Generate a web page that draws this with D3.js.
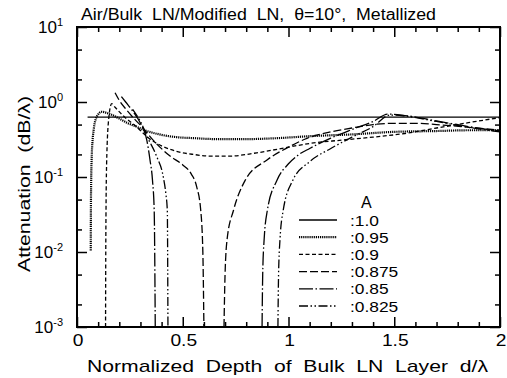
<!DOCTYPE html>
<html>
<head>
<meta charset="utf-8">
<script src="https://cdn.jsdelivr.net/npm/d3@7"></script>
<style>
  html, body { margin: 0; padding: 0; background: #fff; }
  svg { display: block; font-family: "Liberation Sans", Arial, Helvetica, sans-serif; }
  text { white-space: pre; }
</style>
</head>
<body>
<svg id="chart" width="507" height="378"></svg>
<script>
// Attenuation vs. normalized depth of bulk LN layer, one curve per A value.
// Gaps (null) mark the depth range where the curve drops below the plotted range.

const seriesA = ["1.0", "0.95", "0.9", "0.875", "0.85", "0.825"];

const depth_100 = [0.05, 2.0];
const atten_100 = [0.63, 0.63];

const depth_095 = [0.065, 0.066, 0.07, 0.08, 0.095, 0.117, 0.15, 0.2, 0.235, 0.28, 0.32, 0.39, 0.47, 0.55, 0.66, 0.8, 0.95, 1.1, 1.3, 1.5, 1.7, 1.85, 2.0];
const atten_095 = [0.0105, 0.05, 0.2, 0.45, 0.65, 0.74, 0.7, 0.6, 0.53, 0.47, 0.42, 0.37, 0.34, 0.33, 0.32, 0.32, 0.33, 0.35, 0.37, 0.40, 0.41, 0.42, 0.42];

const depth_090 = [0.135, 0.136, 0.14, 0.15, 0.164, 0.18, 0.22, 0.28, 0.345, 0.4, 0.47, 0.55, 0.63, 0.72, 0.85, 1.0, 1.1, 1.25, 1.4, 1.55, 1.7, 1.85, 2.0];
const atten_090 = [0.001, 0.01, 0.15, 0.6, 0.95, 0.85, 0.65, 0.47, 0.32, 0.26, 0.22, 0.2, 0.19, 0.19, 0.21, 0.25, 0.28, 0.31, 0.34, 0.38, 0.45, 0.53, 0.62];

const depth_0875 = [0.18, 0.2, 0.235, 0.27, 0.306, 0.36, 0.44, 0.5, 0.54, 0.566, 0.585, 0.595, 0.6, 0.65,
                    0.695, 0.70, 0.71, 0.74, 0.795, 0.9, 1.0, 1.09, 1.2, 1.3, 1.4, 1.5, 1.6, 1.7, 1.85, 2.0];
const atten_0875 = [1.33, 1.05, 0.78, 0.6, 0.47, 0.31, 0.19, 0.145, 0.11, 0.074, 0.036, 0.01, 0.001, null,
                    0.001, 0.005, 0.015, 0.036, 0.09, 0.17, 0.25, 0.33, 0.4, 0.45, 0.5, 0.52, 0.52, 0.5, 0.46, 0.42];

const depth_085 = [0.21, 0.23, 0.26, 0.30, 0.33, 0.345, 0.357, 0.365, 0.37, 0.6,
                   0.875, 0.878, 0.885, 0.90, 0.945, 1.0, 1.05, 1.1, 1.2, 1.3, 1.4, 1.47, 1.55, 1.7, 1.85, 2.0];
const atten_085 = [1.18, 1.0, 0.78, 0.52, 0.31, 0.17, 0.09, 0.036, 0.001, null,
                   0.001, 0.005, 0.015, 0.036, 0.09, 0.15, 0.2, 0.24, 0.33, 0.43, 0.55, 0.69, 0.66, 0.56, 0.47, 0.41];

const depth_0825 = [0.263, 0.28, 0.30, 0.335, 0.376, 0.408, 0.42, 0.427, 0.43, 0.7,
                    0.95, 0.953, 0.96, 0.975, 1.02, 1.1, 1.2, 1.3, 1.4, 1.48, 1.55, 1.7, 1.85, 2.0];
const atten_0825 = [0.80, 0.68, 0.55, 0.33, 0.19, 0.10, 0.06, 0.036, 0.001, null,
                    0.001, 0.005, 0.015, 0.036, 0.09, 0.16, 0.24, 0.34, 0.47, 0.67, 0.65, 0.55, 0.46, 0.40];

const xTickLabels = ["0", "0.5", "1", "1.5", "2"];
const xTickValues = [0, 0.5, 1, 1.5, 2];
const yTickExponents = [-3, -2, -1, 0, 1];

const titleText = "Air/Bulk  LN/Modified  LN,  \u03B8=10\u00B0,  Metallized";
const xLabelText = "Normalized  Depth  of  Bulk  LN  Layer  d/\u03BB";
const yLabelText = "Attenuation  (dB/\u03BB)";
const legendTitle = "A";

// ---- layout ----
const margin = { left: 77, right: 7, top: 27, bottom: 51 };
const W = 507, H = 378;
const x0 = margin.left, x1 = W - margin.right, y0 = margin.top, y1 = H - margin.bottom;

const x = d3.scaleLinear().domain([0, 2]).range([x0, x1]);
const y = d3.scaleLog().domain([1e-3, 1e1]).range([y1, y0]);

const svg = d3.select("#chart");

// widen a text element horizontally by a factor (or to a fixed width)
function widen(sel, factor, fixed) {
  sel.each(function () {
    const n = this.getComputedTextLength();
    const target = fixed != null ? fixed : n * factor;
    d3.select(this).attr("textLength", target).attr("lengthAdjust", "spacingAndGlyphs");
  });
}

svg.append("defs").append("clipPath").attr("id", "plotclip")
  .append("rect").attr("x", x0).attr("y", y0).attr("width", x1 - x0).attr("height", y1 - y0);

// ---- curves ----
const styles = [
  { dash: null, width: 1.3 },
  { dash: "1.2,0.9", width: 2.2 },
  { dash: "4,2.5", width: 1.3 },
  { dash: "8,3", width: 1.3 },
  { dash: "14,2.5,1.5,2.5", width: 1.3 },
  { dash: "9,2.5,1.5,2.5,1.5,2.5", width: 1.3 }
];
const depths = [depth_100, depth_095, depth_090, depth_0875, depth_085, depth_0825];
const attens = [atten_100, atten_095, atten_090, atten_0875, atten_085, atten_0825];

const line = d3.line()
  .defined(d => d[1] != null)
  .x(d => x(d[0]))
  .y(d => y(d[1]))
  .curve(d3.curveMonotoneX);

const curves = svg.append("g").attr("clip-path", "url(#plotclip)");
seriesA.forEach((a, i) => {
  const pts = depths[i].map((d, j) => [d, attens[i][j]]);
  curves.append("path")
    .attr("d", line(pts))
    .attr("fill", "none")
    .attr("stroke", "#000")
    .attr("stroke-width", styles[i].width)
    .attr("stroke-dasharray", styles[i].dash);
});

// ---- axes (inward ticks on all four sides) ----
const xMinor = d3.range(0, 2.0001, 0.1).map(v => +v.toFixed(1)).filter(v => Math.abs(v * 2 - Math.round(v * 2)) > 1e-6);
const yMinor = [];
for (let e = -3; e < 1; e++) { yMinor.push(2 * Math.pow(10, e), 5 * Math.pow(10, e)); }
const yMajor = yTickExponents.map(e => Math.pow(10, e));

function styleAxis(g) {
  g.selectAll(".domain").remove();
  g.selectAll("text").remove();
  g.selectAll("line").attr("stroke", "#000").attr("stroke-width", 1.5);
}

svg.append("g").attr("transform", `translate(0,${y1})`)
  .call(d3.axisBottom(x).tickValues(xTickValues).tickSize(-10)).call(styleAxis);
svg.append("g").attr("transform", `translate(0,${y1})`)
  .call(d3.axisBottom(x).tickValues(xMinor).tickSize(-5)).call(styleAxis);
svg.append("g").attr("transform", `translate(0,${y0})`)
  .call(d3.axisTop(x).tickValues(xTickValues).tickSize(-10)).call(styleAxis);
svg.append("g").attr("transform", `translate(0,${y0})`)
  .call(d3.axisTop(x).tickValues(xMinor).tickSize(-5)).call(styleAxis);

svg.append("g").attr("transform", `translate(${x0},0)`)
  .call(d3.axisLeft(y).tickValues(yMajor).tickSize(-10)).call(styleAxis);
svg.append("g").attr("transform", `translate(${x0},0)`)
  .call(d3.axisLeft(y).tickValues(yMinor).tickSize(-5)).call(styleAxis);
svg.append("g").attr("transform", `translate(${x1},0)`)
  .call(d3.axisRight(y).tickValues(yMajor).tickSize(-10)).call(styleAxis);
svg.append("g").attr("transform", `translate(${x1},0)`)
  .call(d3.axisRight(y).tickValues(yMinor).tickSize(-5)).call(styleAxis);

// frame
svg.append("rect")
  .attr("x", x0).attr("y", y0).attr("width", x1 - x0).attr("height", y1 - y0)
  .attr("fill", "none").attr("stroke", "#000").attr("stroke-width", 2);

// x tick labels
const xt = svg.append("g").selectAll("text").data(xTickValues).join("text")
  .attr("x", d => x(d) + 1)
  .attr("y", y1 + 19)
  .attr("text-anchor", "middle")
  .attr("font-size", 16)
  .text((d, i) => xTickLabels[i]);
widen(xt, 1.2);

// y tick labels: 10 with superscript exponent
const yl = svg.append("g").selectAll("text").data(yTickExponents).join("text")
  .attr("x", 63)
  .attr("y", d => y(Math.pow(10, d)) + 6)
  .attr("text-anchor", "end")
  .attr("font-size", 17);
yl.append("tspan").text("10");
yl.append("tspan").attr("font-size", 11).attr("dy", -7).text(d => d);

// titles
const title = svg.append("text").attr("x", 81).attr("y", 20).attr("font-size", 16).text(titleText);
widen(title, null, 355);
const xlab = svg.append("text").attr("x", 87).attr("y", 372)
  .attr("font-size", 17).text(xLabelText);
widen(xlab, null, 401);
const ylab = svg.append("text")
  .attr("transform", `translate(30,${(y0 + y1) / 2 + 7}) rotate(-90)`)
  .attr("text-anchor", "middle").attr("font-size", 16).text(yLabelText);
widen(ylab, null, 176);

// legend
const legX = 299, legY = 220, legStep = 17.2;
svg.append("text").attr("x", 361).attr("y", 208).attr("font-size", 16).text(legendTitle);
const leg = svg.append("g");
seriesA.forEach((a, i) => {
  const yy = legY + i * legStep;
  leg.append("line")
    .attr("x1", legX).attr("x2", legX + 38).attr("y1", yy).attr("y2", yy)
    .attr("stroke", "#000").attr("stroke-width", styles[i].width)
    .attr("stroke-dasharray", styles[i].dash);
  const t = leg.append("text").attr("x", 350).attr("y", yy + 5.5).attr("font-size", 15.5).text(":" + a);
  widen(t, 1.12);
});
</script>
</body>
</html>
